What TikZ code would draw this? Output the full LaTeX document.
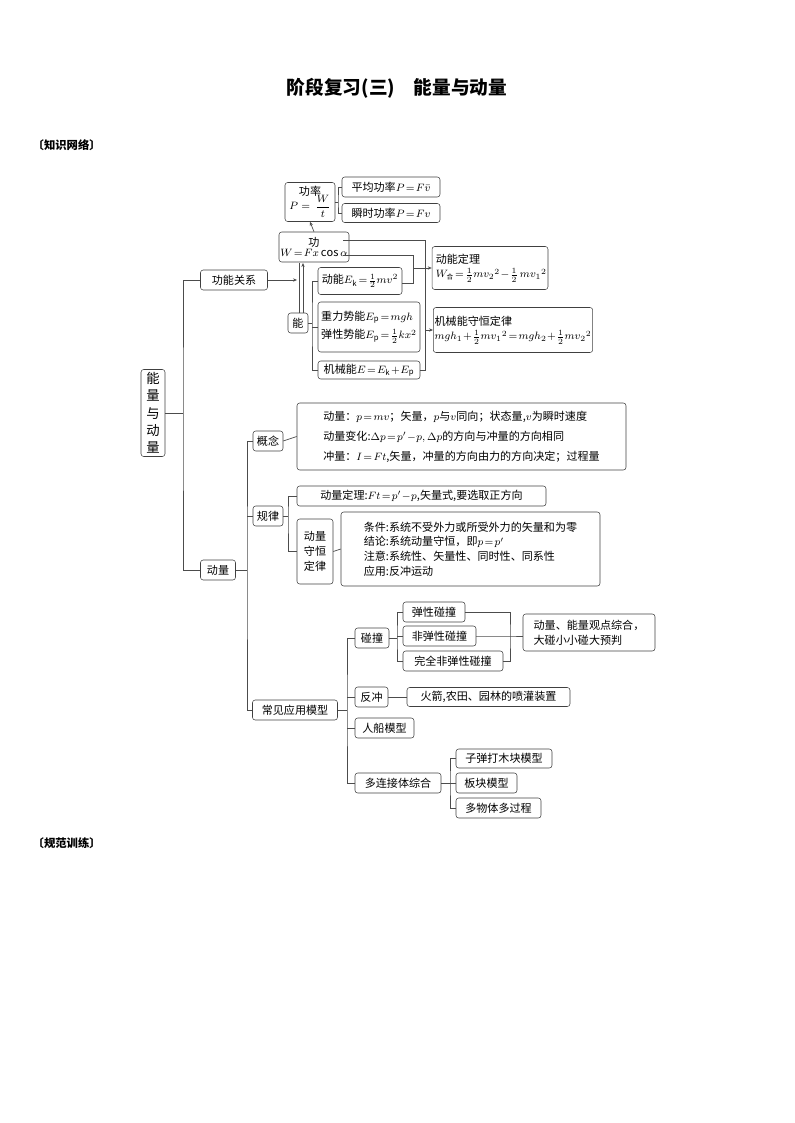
\documentclass[tikz,border=0pt]{standalone}
\usepackage{amsmath}
\usepackage{fontspec}
\setmainfont{Noto Sans CJK SC}
\usetikzlibrary{arrows.meta}
\begin{document}
\begin{tikzpicture}[x=0.75pt,y=-0.75pt,
  bx/.style={draw=black!75,rounded corners=2pt,inner sep=1pt,align=left,font=\fontsize{8.3}{11}\selectfont},
  sz/.style 2 args={minimum width=#1*0.75pt,minimum height=#2*0.75pt},
  ln/.style={draw=black!70,line width=0.5pt},
  ar/.style={ln,-{Stealth[length=3pt,width=2.5pt]}}]
\useasboundingbox (0,0) rectangle (794,1123);
\node[font=\fontsize{14}{16}\selectfont\bfseries] (title) at (397,88) {阶段复习(三)\quad 能量与动量};
\node[font=\fontsize{8.5}{10}\selectfont\bfseries,anchor=west] (h1) at (28,145) {〔知识网络〕};
\node[font=\fontsize{8.5}{10}\selectfont\bfseries,anchor=west] (h2) at (28,843) {〔规范训练〕};
% root
\node[bx,sz={24}{87},align=center,font=\fontsize{10}{13}\selectfont] (root) at (153,413) {能\\量\\与\\动\\量};
\node[bx,sz={67}{20}] (gn) at (234,280) {功能关系};
\node[bx,sz={35}{20}] (dl) at (218,570) {动量};
\draw[ln] (root.east) -- (183,413);
\draw[ln] (gn.west) -| (183,413) |- (dl.west);
% energy part
\node[bx,sz={50}{39},align=center] (gl) at (310,202) {功率\\[-2pt]$P=\,\dfrac{W}{t}$};
\node[bx,sz={98}{20}] (pj) at (391,187) {平均功率$P\!=\!F\bar v$};
\node[bx,sz={98}{19}] (ss) at (391,213) {瞬时功率$P\!=\!Fv$};
\draw[ln] (gl.east) -- (338,202);
\draw[ln] (pj.west) -| (338,202) |- (ss.west);
\node[bx,sz={58}{30},align=center] (gong) at (314,247) {功\\[-3pt]$W\!=\!Fx\cos\alpha$};
\draw[ar] (gong.north) -- (gl.south);
\node[bx,sz={20}{20}] (neng) at (298,323) {能};
\draw[ln] (299,313) -- (299,263);
\draw[ar] (303,313) -- (303,263);
\draw[ar] (gn.east) -- (297,280);
\node[bx,sz={84}{27}] (dn) at (360,281) {动能$E_{\rm k}\!=\!\frac{1}{2}mv^2$};
\node[bx,sz={102}{50}] (sn) at (369,327) {重力势能$E_{\rm p}\!=\!mgh$\\[3pt]弹性势能$E_{\rm p}\!=\!\frac{1}{2}kx^2$};
\node[bx,sz={102}{18}] (jx) at (369,370) {机械能$E\!=\!E_{\rm k}\!+\!E_{\rm p}$};
\draw[ln] (neng.east) -- (312,323);
\draw[ln] (dn.west) -| (312,323) |- (jx.west);
\draw[ln] (sn.west) -- (312,327);
\node[bx,sz={115}{43}] (dd) at (490,268) {\ 动能定理\\\ $W_{\mbox{\tiny 合}}\!=\!\frac{1}{2}mv_2{}^2\!-\!\frac{1}{2}\,mv_1{}^2$};
\node[bx,sz={158}{45}] (js) at (513,330) {机械能守恒定律\\$mgh_1\!+\!\frac{1}{2}mv_1{}^2\!=\!mgh_2\!+\!\frac{1}{2}mv_2{}^2$};
\coordinate (g1) at (343,255);
\coordinate (g2) at (343,240);
\draw[ln] (g1) -| (413,283) -- (402,283);
\draw[ar] (413,268) -- (dd.west);
\draw[ln] (g2) -| (425,370) -- (jx.east);
\draw[ar] (425,330) -- (js.west);
% momentum part
\node[bx,sz={30}{20}] (gn2) at (268,441) {概念};
\node[bx,sz={30}{20}] (gl2) at (268,516) {规律};
\node[bx,sz={85}{20}] (cj) at (295,710) {常见应用模型};
\draw[ln] (dl.east) -- (247,570);
\draw[ln] (gn2.west) -| (247,570) |- (cj.west);
\draw[ln] (gl2.west) -- (247,516);
\node[bx,sz={329}{67},font=\fontsize{8.3}{12}\selectfont] (gnb) at (461.5,436.5) {动量：$p\!=\!mv$；矢量，$p$与$v$同向；状态量,$v$为瞬时速度\\[3pt]动量变化:$\Delta p\!=\!p'\!-\!p,\Delta p$的方向与冲量的方向相同\\[3pt]冲量：$I\!=\!Ft$,矢量，冲量的方向由力的方向决定；过程量};
\draw[ln] (gn2.east) -- (gnb.west);
\node[bx,sz={249}{20}] (dldl) at (421.5,496) {动量定理:$Ft\!=\!p'\!-\!p$,矢量式,要选取正方向};
\node[bx,sz={36}{65},align=center] (dlsh) at (315,551.5) {动量\\守恒\\定律};
\draw[ln] (gl2.east) -- (288,516);
\draw[ln] (dldl.west) -| (288,516) |- (dlsh.west);
\node[bx,sz={259}{74}] (tj) at (470.5,549) {条件:系统不受外力或所受外力的矢量和为零\\结论:系统动量守恒，即$p\!=\!p'$\\注意:系统性、矢量性、同时性、同系性\\应用:反冲运动};
\draw[ln] (dlsh.east) -- (tj.west);
% models
\node[bx,sz={34}{20}] (pz) at (372,638) {碰撞};
\node[bx,sz={33}{20}] (fc) at (371.5,697) {反冲};
\node[bx,sz={59}{20}] (rc) at (384.5,728) {人船模型};
\node[bx,sz={86}{20}] (dlj) at (398,783) {多连接体综合};
\draw[ln] (cj.east) -- (347,710);
\draw[ln] (pz.west) -| (347,710) |- (dlj.west);
\draw[ln] (fc.west) -- (347,697);
\draw[ln] (rc.west) -- (347,728);
\node[bx,sz={62}{20}] (tx) at (434,612) {弹性碰撞};
\node[bx,sz={73}{20}] (ftx) at (439.5,636) {非弹性碰撞};
\node[bx,sz={100}{20}] (wq) at (453,661) {完全非弹性碰撞};
\draw[ln] (pz.east) -- (397,638);
\draw[ln] (tx.west) -| (397,638) |- (wq.west);
\draw[ln] (ftx.west) -- (397,636);
\node[bx,sz={132}{37}] (zh) at (589,632.5) {动量、能量观点综合，\\大碰小小碰大预判};
\coordinate (zhl) at (523,636);
\draw[ln] (tx.east) -| (510,636) |- (wq.east);
\draw[ln] (ftx.east) -- (510,636) -- (zhl);
\node[bx,sz={163}{19}] (hj) at (488.5,697) {火箭,农田、园林的喷灌装置};
\draw[ln] (fc.east) -- (hj.west);
\node[bx,sz={96}{19}] (zd) at (504,758.5) {子弹打木块模型};
\node[bx,sz={61}{20}] (bk) at (486.5,783) {板块模型};
\node[bx,sz={85}{20}] (dw) at (498.5,808) {多物体多过程};
\draw[ln] (dlj.east) -- (450,783);
\draw[ln] (zd.west) -| (450,783) |- (dw.west);
\draw[ln] (bk.west) -- (450,783);
\end{tikzpicture}
\end{document}
